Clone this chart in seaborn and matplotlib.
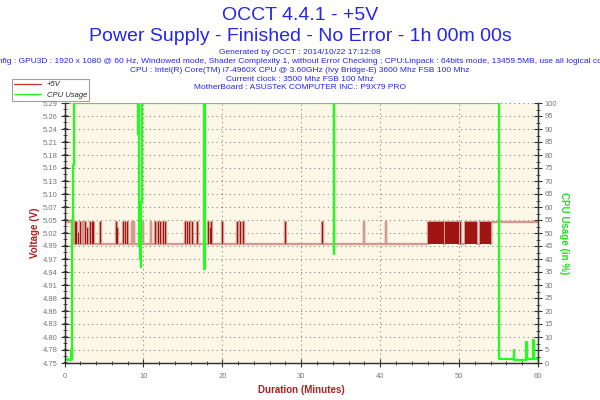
import matplotlib
matplotlib.use('Agg')
import matplotlib.pyplot as plt
import numpy as np
import pandas as pd
import seaborn as sns
from matplotlib.lines import Line2D
from matplotlib.ticker import FormatStrFormatter, MultipleLocator

TITLE_LINES = ['OCCT 4.4.1 - +5V', 'Power Supply - Finished - No Error - 1h 00m 00s']
INFO_LINES = [
    'Generated by OCCT : 2014/10/22 17:12:08',
    'Config : GPU3D : 1920 x 1080 @ 60 Hz, Windowed mode, Shader Complexity 1, without Error Checking ; '
    'CPU:Linpack : 64bits mode, 13459.5MB, use all logical cores',
    'CPU : Intel(R) Core(TM) i7-4960X CPU @ 3.60GHz (Ivy Bridge-E) 3600 Mhz FSB 100 Mhz',
    'Current clock : 3500 Mhz FSB 100 Mhz',
    'MotherBoard : ASUSTeK COMPUTER INC.: P9X79 PRO',
]

# +5V rail: resting level and the spikes (minutes)
VOLT_BASE = 4.997
VOLT_SPIKE_START = [0.0, 1.3, 1.5, 1.75, 1.95, 2.3, 2.55, 2.9, 3.2, 3.5, 3.65, 4.5,
                    6.5, 6.7, 7.4, 7.7, 7.95, 8.5, 8.75, 9.6, 9.9, 10.9,
                    11.5, 11.85, 12.1, 12.5, 12.7, 15.3, 15.55, 15.8, 16.2, 16.8,
                    18.2, 18.45, 18.6, 20.0, 21.9, 22.3, 22.6, 28.0, 32.6, 37.9, 40.7,
                    46.0, 48.25, 50.15, 50.8, 52.7, 54.1]
VOLT_SPIKE_END = [1.1, 1.4, 1.6, 1.85, 2.1, 2.4, 2.7, 3.0, 3.3, 3.6, 3.75, 4.6,
                  6.6, 6.8, 7.5, 7.8, 8.1, 8.6, 8.85, 9.7, 10.0, 11.0,
                  11.6, 11.95, 12.2, 12.6, 12.8, 15.4, 15.65, 15.9, 16.3, 16.9,
                  18.3, 18.55, 18.7, 20.1, 22.0, 22.4, 22.7, 28.1, 32.7, 38.0, 40.8,
                  48.1, 50.05, 50.3, 52.3, 54.0, 60.0]
VOLT_SPIKE_LEVEL = [5.042, 5.042, 5.042, 5.02, 5.042, 5.042, 5.042, 5.03, 5.042, 5.042, 5.042, 5.042,
                    5.042, 5.03, 5.042, 5.042, 5.042, 5.042, 5.042, 5.042, 5.042, 5.042,
                    5.042, 5.042, 5.042, 5.042, 5.042, 5.042, 5.042, 5.042, 5.042, 5.042,
                    5.042, 5.03, 5.042, 5.042, 5.042, 5.042, 5.042, 5.042, 5.042, 5.042, 5.042,
                    5.042, 5.042, 5.042, 5.042, 5.042, 5.042]

# CPU usage (%) breakpoints, held until the next time
CPU_TIME = [0.0, 0.5, 0.85, 0.95, 1.0, 1.05, 1.15, 9.35, 9.4, 9.45, 9.5, 9.55, 9.6, 9.65,
            9.7, 9.75, 9.8, 17.65, 17.7, 17.75, 34.05, 34.1, 34.15, 55.0, 56.9, 56.95,
            58.5, 58.55, 59.4, 59.45, 60.0]
CPU_VALUE = [1.5, 1.0, 5.0, 1.5, 55.0, 76.0, 100.0, 88.0, 100.0, 70.0, 45.0, 60.0, 40.0, 37.0,
             48.0, 62.0, 100.0, 100.0, 36.0, 100.0, 100.0, 42.0, 100.0, 1.5, 5.0, 1.0,
             8.0, 1.5, 9.0, 1.5, 1.0]

VOLT_TICK_START = 4.75
VOLT_TICK_STEP = 0.027
VOLT_TICK_COUNT = 21

BLUE = '#2626ee'
DARK_RED = '#a01414'
PINK = '#d39a90'
GREEN = '#1eff1e'


def volt_series():
    times = []
    values = []
    for start, end, level in zip(VOLT_SPIKE_START, VOLT_SPIKE_END, VOLT_SPIKE_LEVEL):
        times += [start, end]
        values += [level, VOLT_BASE]
    values[-1] = values[-2]
    return pd.DataFrame({'minutes': times, 'volts': values})


def main():
    sns.set_style('ticks')
    plt.rcParams['font.family'] = ['Liberation Sans', 'DejaVu Sans']

    fig = plt.figure(figsize=(6, 4), dpi=100)
    ax = fig.add_axes([0.1075, 0.0925, 0.7892, 0.65])
    ax.set_facecolor('#fdf7e8')
    ax2 = ax.twinx()

    volt = volt_series()
    cpu = pd.DataFrame({'minutes': CPU_TIME, 'cpu': CPU_VALUE})

    # rapid toggling shows as solid blocks between 1 and 55 minutes
    dense = (volt['minutes'] >= 1.1) & (volt['minutes'] < 55.0)
    ax.fill_between(volt['minutes'], VOLT_BASE, volt['volts'], where=dense,
                    step='post', color=DARK_RED, lw=0, zorder=2)
    sns.lineplot(data=volt, x='minutes', y='volts', ax=ax, estimator=None, sort=False,
                 drawstyle='steps-post', color=PINK, lw=1.7, zorder=1, legend=False)
    sns.lineplot(data=cpu, x='minutes', y='cpu', ax=ax2, estimator=None, sort=False,
                 drawstyle='steps-post', color=GREEN, lw=1.6, legend=False)

    volt_ticks = VOLT_TICK_START + VOLT_TICK_STEP * np.arange(VOLT_TICK_COUNT)
    ax.set_xlim(0, 60)
    ax.set_ylim(volt_ticks[0], volt_ticks[-1])
    ax2.set_ylim(0, 100)

    ax.xaxis.set_major_locator(MultipleLocator(10))
    ax.xaxis.set_minor_locator(MultipleLocator(2))
    ax.set_yticks(volt_ticks)
    ax.yaxis.set_major_formatter(FormatStrFormatter('%.2f'))
    ax.yaxis.set_minor_locator(MultipleLocator(VOLT_TICK_STEP / 2))
    ax2.yaxis.set_major_locator(MultipleLocator(5))
    ax2.yaxis.set_minor_locator(MultipleLocator(2.5))

    for a in (ax, ax2):
        a.tick_params(which='major', direction='inout', length=6, width=0.8,
                      color='#333333', labelsize=5.5, labelcolor='#777777', pad=2)
        a.tick_params(which='minor', direction='inout', length=3, width=0.6, color='#333333')
        for side in ('left', 'right', 'bottom'):
            a.spines[side].set_color('#333333')
            a.spines[side].set_linewidth(0.9)
        a.spines['top'].set_visible(False)
    ax.tick_params(axis='x', pad=4)

    ax.grid(True, which='major', linestyle=(0, (1, 3)), color='#8a8a8a', lw=0.8)
    ax.set_axisbelow(True)

    ax.set_xlabel('Duration (Minutes)', color='#b02020', fontsize=7, fontweight='bold', labelpad=4)
    ax.set_ylabel('Voltage (V)', color='#b02020', fontsize=7, fontweight='bold', labelpad=2)
    ax2.set_ylabel('CPU Usage (in %)', color='#22dd22', fontsize=7, fontweight='bold',
                   rotation=270, labelpad=8)

    fig.text(0.5, 0.96, TITLE_LINES[0], ha='center', va='center', color=BLUE, fontsize=14)
    fig.text(0.5, 0.908, TITLE_LINES[1], ha='center', va='center', color=BLUE, fontsize=14)
    # the config line is wider than the figure and gets clipped, as in the original
    for i, line in enumerate(INFO_LINES):
        fig.text(0.5, 0.869 - i * 0.0222, line, ha='center', va='center', color=BLUE, fontsize=6.0)

    handles = [Line2D([], [], color='#c03030', lw=0.9), Line2D([], [], color=GREEN, lw=0.9)]
    leg = fig.legend(handles, ['+5V', 'CPU Usage'], loc='upper left',
                     bbox_to_anchor=(0.013, 0.8125), frameon=True,
                     fancybox=False, handlelength=3.5, borderpad=0.3, labelspacing=0.4,
                     prop={'style': 'italic', 'size': 5.5})
    leg.get_frame().set_edgecolor('#888888')
    leg.get_frame().set_linewidth(0.8)

    fig.savefig('out.png', dpi=100, facecolor='white')
    plt.close(fig)


if __name__ == '__main__':
    main()
